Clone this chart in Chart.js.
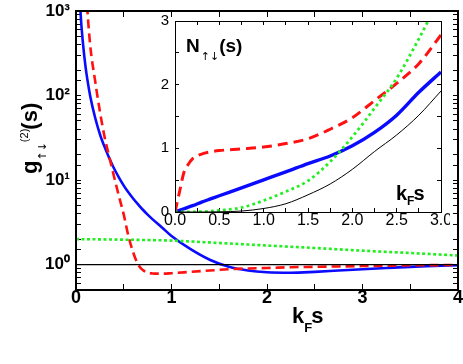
<!DOCTYPE html>
<html>
<head>
<meta charset="utf-8">
<script src="https://cdn.jsdelivr.net/npm/chart.js@4"></script>
<style>
  body { margin: 0; background: #fff; }
  #wrap { position: relative; width: 463px; height: 364px; }
  canvas { position: absolute; }
  .frame { position: absolute; box-sizing: border-box; border-style: solid; border-color: #000; pointer-events: none; }
</style>
</head>
<body>
<div id="wrap">
  <canvas id="main" width="463" height="364" style="left:0;top:0"></canvas>
  <canvas id="inset" width="310" height="232" style="left:140px;top:8px"></canvas>
</div>
<script>
// main panel: g(2) vs kF s
const kfs = [0.03, 0.05, 0.07, 0.1, 0.12, 0.15, 0.2, 0.25, 0.3, 0.35, 0.4, 0.45, 0.5, 0.55, 0.6, 0.65, 0.7, 0.75, 0.8, 0.9, 1.0, 1.2, 1.4, 1.6, 1.8, 2.0, 2.25, 2.5, 2.75, 3.0, 3.25, 3.5, 3.75, 4.0];
const gBlue = [2400, 860, 450, 218, 152, 97, 55, 35, 24.5, 18, 13.6, 10.7, 8.6, 7.1, 6.0, 5.15, 4.45, 3.9, 3.45, 2.75, 2.18, 1.52, 1.14, 0.94, 0.85, 0.81, 0.80, 0.82, 0.85, 0.88, 0.91, 0.94, 0.96, 0.98];
const gRed = [null, null, null, 2500, 1000, 380, 150, 65, 32, 18.5, 10.8, 6.4, 3.9, 2.15, 1.38, 1.0, 0.86, 0.80, 0.785, 0.78, 0.79, 0.82, 0.85, 0.88, 0.90, 0.91, 0.93, 0.94, 0.95, 0.96, 0.97, 0.98, 0.985, 0.99];
const kfsFlat = [0, 0.5, 1, 1.5, 2, 2.5, 3, 3.5, 4];
const gGreen = [2.0, 1.97, 1.92, 1.8, 1.68, 1.57, 1.46, 1.37, 1.28];
const gBlack = [1, 1, 1, 1, 1, 1, 1, 1, 1];

// inset: N(s)
const kfsIn = [0, 0.05, 0.1, 0.15, 0.2, 0.3, 0.4, 0.5, 0.75, 1.0, 1.25, 1.5, 1.75, 2.0, 2.25, 2.5, 2.75, 3.0];
const nBlue = [0, 0.026, 0.051, 0.077, 0.10, 0.155, 0.205, 0.255, 0.38, 0.505, 0.63, 0.76, 0.88, 1.04, 1.25, 1.52, 1.88, 2.2];
const nRed = [0, 0.31, 0.62, 0.75, 0.84, 0.91, 0.945, 0.965, 0.99, 1.02, 1.075, 1.15, 1.30, 1.48, 1.75, 2.02, 2.33, 2.78];
const nGreen = [0, 0, 0, 0, 0.002, 0.005, 0.012, 0.025, 0.07, 0.18, 0.32, 0.49, 0.79, 1.18, 1.63, 2.10, 2.72, 3.4];
const nBlack = [0, 0, 0, 0, 0, 0, 0.001, 0.003, 0.015, 0.055, 0.13, 0.27, 0.44, 0.67, 0.95, 1.21, 1.52, 1.90];

const FONT = "'Liberation Sans', Arial, sans-serif";
const ARROWS = "'DejaVu Sans', sans-serif";
const BLUE = '#0a0aff', RED = '#ff1111', GREEN = '#22ee22';
const sup = {0: '\u2070', 1: '\u00b9', 2: '\u00b2', 3: '\u00b3'};

function pts(xs, ys) {
  return xs.map((x, i) => ({x: x, y: ys[i]}));
}

function series(xs, ys, color, width, dash) {
  return {
    data: pts(xs, ys),
    borderColor: color,
    borderWidth: width,
    borderDash: dash || [],
    pointRadius: 0,
    fill: false,
    cubicInterpolationMode: 'monotone'
  };
}

function fixSize(prop, size) {
  return function (scale) {
    scale[prop] = size;
    scale.paddingLeft = 0; scale.paddingRight = 0;
    scale.paddingTop = 0; scale.paddingBottom = 0;
  };
}

// grid used only for inward tick marks
function inwardGrid(len) {
  return {display: true, drawOnChartArea: false, drawTicks: true, tickLength: -len,
          color: '#000', tickColor: '#000', tickWidth: 1, lineWidth: 1};
}
const noBorder = {display: false};

function isPow10(v) {
  const e = Math.log10(v);
  return Math.abs(e - Math.round(e)) < 1e-9;
}

const noLabel = () => '';

// box around a chart's plot area, placed from the chart's own layout
function addFrame(chart, offX, offY, bw) {
  const a = chart.chartArea;
  const d = document.createElement('div');
  d.className = 'frame';
  d.style.borderWidth = bw + 'px';
  d.style.left = (offX + a.left - bw / 2) + 'px';
  d.style.top = (offY + a.top - bw / 2) + 'px';
  d.style.width = (a.right - a.left + bw) + 'px';
  d.style.height = (a.bottom - a.top + bw) + 'px';
  document.getElementById('wrap').appendChild(d);
}

// main chart
const mainChart = new Chart(document.getElementById('main'), {
  type: 'line',
  data: {
    datasets: [
      series(kfsFlat, gBlack, '#000', 1.2),
      series(kfsFlat, gGreen, GREEN, 2.6, [3, 2.5]),
      series(kfs, gRed, RED, 2.6, [9, 5]),
      series(kfs, gBlue, BLUE, 2.6)
    ]
  },
  options: {
    responsive: false,
    animation: false,
    events: [],
    layout: {padding: {top: 10, right: 4, left: 0, bottom: 0}},
    plugins: {legend: {display: false}, tooltip: {enabled: false}},
    scales: {
      x: {
        type: 'linear', position: 'bottom', min: 0, max: 4,
        grid: inwardGrid(6), border: noBorder,
        afterFit: fixSize('height', 74),
        ticks: {
          stepSize: 0.5, autoSkip: false, maxRotation: 0, padding: 3, color: '#000',
          font: {family: FONT, size: 18, weight: 'bold'},
          callback: v => Number.isInteger(v) ? String(v) : ''
        }
      },
      x2: {
        type: 'linear', position: 'top', min: 0, max: 4,
        grid: inwardGrid(6), border: noBorder,
        afterFit: fixSize('height', 1),
        ticks: {stepSize: 0.5, autoSkip: false, maxRotation: 0, callback: noLabel}
      },
      y: {
        type: 'logarithmic', position: 'left', min: 0.5, max: 1000,
        grid: inwardGrid(5), border: noBorder,
        afterFit: fixSize('width', 76),
        ticks: {
          autoSkip: false, padding: 11, color: '#000',
          font: {family: FONT, size: 17, weight: 'bold'},
          callback: v => isPow10(v) ? '10' + sup[Math.round(Math.log10(v))] : ''
        }
      },
      y2: {
        type: 'logarithmic', position: 'right', min: 0.5, max: 1000,
        grid: inwardGrid(5), border: noBorder,
        afterFit: fixSize('width', 1),
        ticks: {autoSkip: false, callback: noLabel}
      }
    }
  },
  plugins: [{
    id: 'mainTitles',
    afterDraw(chart) {
      const ctx = chart.ctx;
      ctx.save();
      ctx.fillStyle = '#000';
      ctx.textBaseline = 'alphabetic';
      ctx.textAlign = 'left';
      // x title: kF s
      ctx.font = 'bold 22px ' + FONT;
      ctx.fillText('k', 292, 323);
      const w = ctx.measureText('k').width;
      ctx.font = 'bold 13px ' + FONT;
      ctx.fillText('F', 292 + w, 332);
      const wf = ctx.measureText('F').width;
      ctx.font = 'bold 22px ' + FONT;
      ctx.fillText('s', 292 + w + wf - 1, 323);
      // y title: g↑↓(2)(s), rotated
      ctx.translate(37, 174);
      ctx.rotate(-Math.PI / 2);
      let x = 0;
      ctx.font = 'bold 22px ' + FONT;
      ctx.fillText('g', x, 0);
      x += ctx.measureText('g').width;
      ctx.font = '11px ' + ARROWS;
      ctx.fillText('\u2191\u2193', x, 9);
      x += ctx.measureText('\u2191\u2193').width;
      ctx.font = '11px ' + FONT;
      ctx.fillText('(2)', x, -9);
      x += ctx.measureText('(2)').width - 1;
      ctx.font = 'bold 22px ' + FONT;
      ctx.fillText('(s)', x, 0);
      ctx.restore();
    }
  }]
});
addFrame(mainChart, 0, 0, 2);

// inset chart
const insetChart = new Chart(document.getElementById('inset'), {
  type: 'line',
  data: {
    datasets: [
      series(kfsIn, nBlack, '#000', 1),
      series(kfsIn, nGreen, GREEN, 2.8, [2.8, 3.2]),
      series(kfsIn, nRed, RED, 3, [10, 6]),
      series(kfsIn, nBlue, BLUE, 3.4)
    ]
  },
  options: {
    responsive: false,
    animation: false,
    events: [],
    layout: {padding: {top: 12, right: 8, left: 0, bottom: 0}},
    plugins: {legend: {display: false}, tooltip: {enabled: false}},
    scales: {
      x: {
        type: 'linear', position: 'bottom', min: 0, max: 3,
        grid: inwardGrid(4), border: noBorder,
        afterFit: fixSize('height', 28),
        ticks: {
          stepSize: 0.25, autoSkip: false, maxRotation: 0, padding: 3, color: '#000',
          font: {family: FONT, size: 16},
          callback: v => Math.abs(v * 2 - Math.round(v * 2)) < 1e-9 ? v.toFixed(1) : ''
        }
      },
      x2: {
        type: 'linear', position: 'top', min: 0, max: 3,
        grid: inwardGrid(4), border: noBorder,
        afterFit: fixSize('height', 1),
        ticks: {stepSize: 0.25, autoSkip: false, maxRotation: 0, callback: noLabel}
      },
      y: {
        type: 'linear', position: 'left', min: 0, max: 3,
        grid: inwardGrid(4), border: noBorder,
        afterFit: fixSize('width', 35),
        ticks: {
          stepSize: 0.5, autoSkip: false, padding: 10, color: '#000',
          font: {family: FONT, size: 15},
          callback: v => Number.isInteger(v) ? String(v) : ''
        }
      },
      y2: {
        type: 'linear', position: 'right', min: 0, max: 3,
        grid: inwardGrid(4), border: noBorder,
        afterFit: fixSize('width', 1),
        ticks: {stepSize: 0.5, autoSkip: false, callback: noLabel}
      }
    }
  },
  plugins: [{
    id: 'insetDecor',
    beforeDraw(chart) {
      // white plot background, painted before the tick marks
      const {ctx, chartArea: a} = chart;
      ctx.save();
      ctx.fillStyle = '#fff';
      ctx.fillRect(a.left, a.top, a.right - a.left, a.bottom - a.top);
      ctx.restore();
    },
    afterDraw(chart) {
      const ctx = chart.ctx;
      ctx.save();
      ctx.fillStyle = '#000';
      ctx.textBaseline = 'alphabetic';
      ctx.textAlign = 'left';
      // label N↑↓(s)
      ctx.font = 'bold 19px ' + FONT;
      ctx.fillText('N', 46, 44);
      let x = 46 + ctx.measureText('N').width + 1;
      ctx.font = '11px ' + ARROWS;
      ctx.fillText('\u2191\u2193', x, 52);
      x += ctx.measureText('\u2191\u2193').width;
      ctx.font = 'bold 19px ' + FONT;
      ctx.fillText('(s)', x, 44);
      // label kF s
      ctx.font = 'bold 20px ' + FONT;
      ctx.fillText('k', 256, 192);
      x = 256 + ctx.measureText('k').width;
      ctx.font = 'bold 12px ' + FONT;
      ctx.fillText('F', x, 197);
      x += ctx.measureText('F').width - 1;
      ctx.font = 'bold 20px ' + FONT;
      ctx.fillText('s', x, 192);
      ctx.restore();
    }
  }]
});
addFrame(insetChart, 140, 8, 1);
</script>
</body>
</html>
